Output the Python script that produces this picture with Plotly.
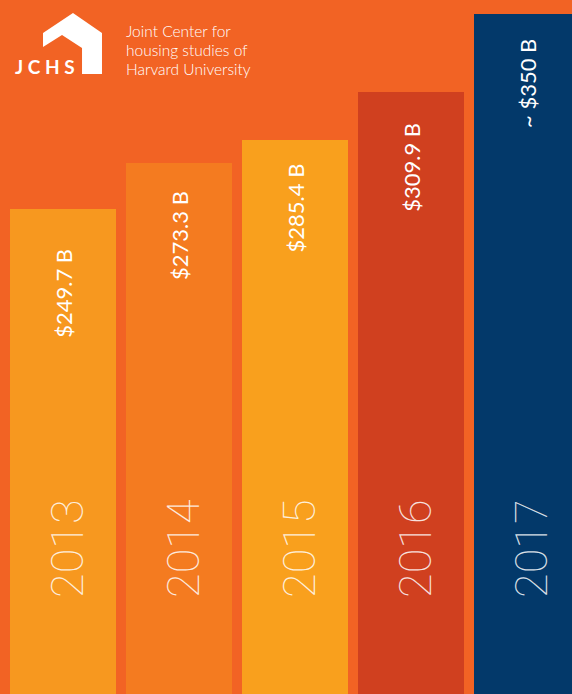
import plotly.graph_objects as go

years = ["2013", "2014", "2015", "2016", "2017"]
values = [249.7, 273.3, 285.4, 309.9, 350.0]
value_labels = ["$249.7 B", "$273.3 B", "$285.4 B", "$309.9 B", "~ $350 B"]
bar_colors = ["#F7981F", "#F47B20", "#F9A01D", "#D0401F", "#03396A"]
logo_lines = ["Joint Center for", "housing studies of", "Harvard University"]

# styling: pixel offset of each value label below its bar top
label_gaps = [38, 26, 22, 29, 23]

BG = "#F26324"
W, H = 572, 694

x = list(range(len(years)))

fig = go.Figure()
fig.add_trace(go.Bar(
    x=x, y=values, marker=dict(color=bar_colors, line=dict(width=0)),
    width=0.914, hoverinfo="skip", showlegend=False,
))

for i, (v, lab) in enumerate(zip(values, value_labels)):
    fig.add_annotation(
        x=i, y=v, xref="x", yref="y", text=lab, textangle=-90,
        showarrow=False, yanchor="top", xanchor="center", yshift=-label_gaps[i],
        font=dict(family="Lato", size=22, color="white", weight=400),
    )
    fig.add_annotation(
        x=i, y=0, xref="x", yref="y", text=years[i], textangle=-90,
        showarrow=False, yanchor="bottom", xanchor="center", yshift=94, xshift=4,
        font=dict(family="Roboto", size=45, color="rgba(255,255,255,0.85)", weight=100),
    )

def px(xp, yp):
    return xp / W, 1 - yp / H

pts = [(43, 33), (73, 13), (102, 33), (102, 74), (82, 74), (82, 48), (62, 35), (43, 47)]
path = "M " + " L ".join(f"{px(a,b)[0]:.4f},{px(a,b)[1]:.4f}" for a, b in pts) + " Z"
fig.add_shape(type="path", path=path, xref="paper", yref="paper",
              fillcolor="white", line=dict(width=0), layer="above")
fig.add_annotation(
    x=px(45, 66)[0], y=px(45, 66)[1], xref="paper", yref="paper", text="<b>J C H S</b>",
    showarrow=False, xanchor="center", yanchor="middle",
    font=dict(family="Lato", size=19, color="white"),
)
for k, line in enumerate(logo_lines):
    xx, yy = px(124, 31 + 19 * k)
    fig.add_annotation(
        x=xx, y=yy, xref="paper", yref="paper", text=line, showarrow=False,
        xanchor="left", yanchor="middle",
        font=dict(family="Lato", size=15.5, color="white", weight=300),
    )

fig.update_layout(
    width=W, height=H, margin=dict(l=0, r=0, t=0, b=0, pad=0),
    paper_bgcolor=BG, plot_bgcolor=BG, bargap=0,
    xaxis=dict(range=[-0.547, 4.384], visible=False, fixedrange=True),
    yaxis=dict(range=[0, 357.2], visible=False, fixedrange=True),
)
fig.write_html("out.html", config={"displayModeBar": False},
               post_script="document.body.style.margin='0';document.body.style.overflow='hidden';")
